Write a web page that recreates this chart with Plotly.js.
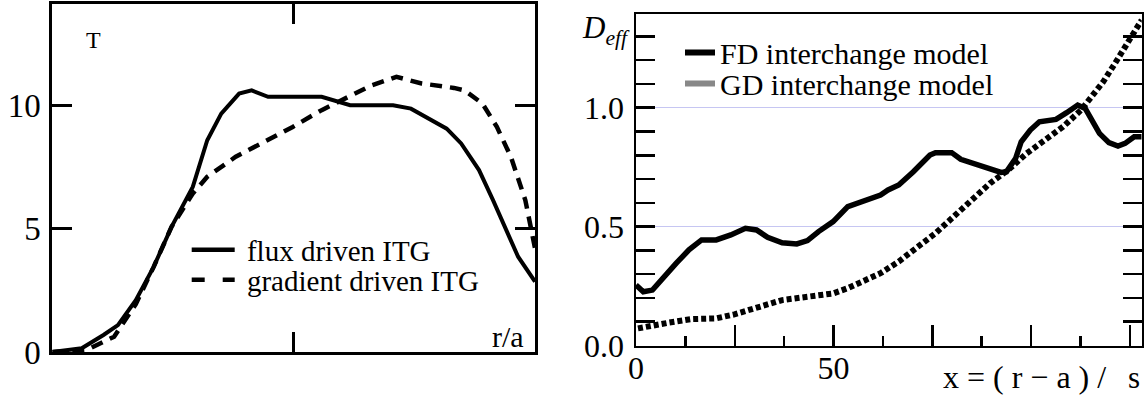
<!DOCTYPE html>
<html>
<head>
<meta charset="utf-8">
<script src="https://cdn.plot.ly/plotly-3.0.1.min.js"></script>
<style>
  html, body { margin: 0; padding: 0; background: #ffffff; }
  #chart { width: 1144px; height: 397px; }
</style>
</head>
<body>
<div id="chart"></div>
<script>
// Left panel: temperature profiles T(r/a)
const rFlux = [0, 0.061, 0.106, 0.136, 0.173, 0.21, 0.247, 0.291, 0.321, 0.35, 0.387, 0.413, 0.447, 0.558, 0.617, 0.706, 0.743, 0.817, 0.847, 0.884, 0.913, 0.943, 0.965, 1.0];
const tFlux = [0, 0.15, 0.69, 1.09, 2.1, 3.45, 5.07, 6.69, 8.58, 9.66, 10.47, 10.6, 10.34, 10.34, 10.0, 10.0, 9.86, 9.05, 8.45, 7.37, 6.15, 4.8, 3.86, 2.85];
const rGrad = [0, 0.073, 0.128, 0.173, 0.21, 0.247, 0.291, 0.321, 0.38, 0.432, 0.498, 0.558, 0.617, 0.661, 0.713, 0.765, 0.832, 0.854, 0.891, 0.921, 0.95, 0.98, 1.0];
const tGrad = [0, 0.1, 0.62, 1.94, 3.45, 5.07, 6.42, 7.1, 7.91, 8.45, 9.12, 9.8, 10.4, 10.8, 11.15, 10.88, 10.7, 10.6, 10.07, 9.12, 7.91, 6.15, 4.2];

// Right panel: effective diffusivity D_eff(x)
const xFD = [0, 1.85, 4.16, 7.85, 10.2, 13.4, 16.6, 20.3, 24.0, 27.7, 30.5, 33.3, 37.0, 40.7, 43.4, 46.2, 49.9, 53.6, 57.3, 61.9, 63.8, 66.5, 70.2, 74.4, 75.8, 79.9, 82.2, 85.9, 89.6, 92.4, 93.8, 96.1, 97.5, 99.8, 102.1, 103.5, 106.3, 109.0, 111.8, 113.7, 115.5, 117.3, 119.7, 122.0, 123.8, 126.1, 128.0];
const dFD = [0.254, 0.226, 0.233, 0.297, 0.346, 0.402, 0.444, 0.444, 0.465, 0.493, 0.486, 0.455, 0.432, 0.427, 0.441, 0.479, 0.521, 0.584, 0.608, 0.633, 0.654, 0.675, 0.731, 0.801, 0.811, 0.811, 0.783, 0.763, 0.745, 0.728, 0.731, 0.787, 0.857, 0.906, 0.941, 0.945, 0.951, 0.979, 1.011, 0.997, 0.948, 0.892, 0.853, 0.839, 0.850, 0.878, 0.878];
const xGD = [0.5, 4.6, 8.3, 13.9, 20.3, 24.9, 31.4, 37.0, 43.4, 49.9, 53.6, 57.3, 61.9, 66.5, 71.1, 75.8, 80.4, 85.0, 89.6, 94.2, 98.9, 103.5, 108.1, 112.7, 115.5, 118.3, 121.0, 123.8, 126.6, 128.0];
const dGD = [0.072, 0.086, 0.096, 0.111, 0.114, 0.131, 0.163, 0.191, 0.205, 0.219, 0.241, 0.269, 0.304, 0.353, 0.409, 0.472, 0.542, 0.612, 0.682, 0.738, 0.808, 0.864, 0.920, 0.991, 1.047, 1.110, 1.180, 1.257, 1.341, 1.369];

// Axis ticks and labels
const leftYTicks = [0, 5, 10];
const rightXTicks = [0, 25, 50, 75, 100, 125];
const rightXText = ['0', ' ', '50', ' ', ' ', ' '];
const rightXMinor = [12.5, 37.5, 62.5, 87.5, 112.5];
const rightYTicks = [0, 0.5, 1.0];
const rightYText = ['0.0', '0.5', '1.0'];
const rightYMinor = [0.1, 0.2, 0.3, 0.4, 0.6, 0.7, 0.8, 0.9, 1.1, 1.2, 1.3];

const W = 1144, H = 397;
const px = v => v / W;
const py = v => (H - v) / H;
const SERIF = '"Liberation Serif", "Times New Roman", serif';
const NBSP = '\u00a0';

const traces = [
  { x: rFlux, y: tFlux, xaxis: 'x', yaxis: 'y', mode: 'lines', showlegend: false,
    line: { color: '#000', width: 4 } },
  { x: rGrad, y: tGrad, xaxis: 'x', yaxis: 'y', mode: 'lines', showlegend: false,
    line: { color: '#000', width: 4.5, dash: '12px,8px' } },
  { x: xFD, y: dFD, xaxis: 'x2', yaxis: 'y2', mode: 'lines', showlegend: false,
    line: { color: '#000', width: 5.5 } },
  { x: xGD, y: dGD, xaxis: 'x2', yaxis: 'y2', mode: 'lines', showlegend: false,
    line: { color: '#000', width: 6, dash: '5px,3px' } },
  // legend entries
  { x: [null], y: [null], xaxis: 'x', yaxis: 'y', mode: 'lines', name: NBSP + 'flux driven ITG',
    legend: 'legend', line: { color: '#000', width: 4.5 } },
  { x: [null], y: [null], xaxis: 'x', yaxis: 'y', mode: 'lines', name: NBSP + 'gradient driven ITG',
    legend: 'legend2', line: { color: '#000', width: 4.5, dash: '13px,18px' } },
  { x: [null], y: [null], xaxis: 'x2', yaxis: 'y2', mode: 'lines', name: 'FD interchange model',
    legend: 'legend3', line: { color: '#000', width: 6 } },
  { x: [null], y: [null], xaxis: 'x2', yaxis: 'y2', mode: 'lines', name: 'GD interchange model',
    legend: 'legend4', line: { color: '#888', width: 6 } }
];

const legendBase = {
  bgcolor: 'rgba(0,0,0,0)', borderwidth: 0, xanchor: 'left', yanchor: 'middle'
};
const leftLegendFont = { family: SERIF, size: 29, color: '#000' };
const rightLegendFont = { family: SERIF, size: 30, color: '#000' };

const layout = {
  width: W, height: H,
  margin: { l: 0, r: 0, t: 0, b: 0 },
  paper_bgcolor: '#fff', plot_bgcolor: '#fff',
  font: { family: SERIF, color: '#000' },
  xaxis: {
    domain: [px(52.3), px(535)], range: [0, 1], anchor: 'y',
    showline: true, linecolor: '#000', linewidth: 3, mirror: 'ticks',
    ticks: 'inside', tickvals: [0.5], ticklen: 20, tickwidth: 3, tickcolor: '#000',
    showticklabels: false, showgrid: false, zeroline: false, fixedrange: true
  },
  yaxis: {
    domain: [py(352), py(4)], range: [0, 14.1], anchor: 'x',
    showline: true, linecolor: '#000', linewidth: 3, mirror: 'ticks',
    ticks: 'inside', tickvals: leftYTicks, ticklen: 20, tickwidth: 3, tickcolor: '#000',
    tickfont: { family: SERIF, size: 33, color: '#000' }, ticklabelstandoff: 2,
    showgrid: false, zeroline: false, fixedrange: true
  },
  xaxis2: {
    domain: [px(636), px(1141.7)], range: [0, 128], anchor: 'y2',
    showline: true, linecolor: '#000', linewidth: 2.5, mirror: true,
    ticks: 'inside', tickvals: rightXTicks, ticktext: rightXText, ticklen: 21, tickwidth: 2.5, tickcolor: '#000',
    minor: { tickmode: 'array', tickvals: rightXMinor, ticks: 'inside', ticklen: 10, tickwidth: 2.5, tickcolor: '#000', showgrid: false },
    tickfont: { family: SERIF, size: 32, color: '#000' }, ticklabelstandoff: -7,
    showgrid: false, zeroline: false, fixedrange: true
  },
  yaxis2: {
    domain: [py(345.5), py(14)], range: [0, 1.394], anchor: 'x2',
    showline: true, linecolor: '#000', linewidth: 2.5, mirror: 'ticks',
    ticks: 'inside', tickvals: rightYTicks, ticktext: rightYText, ticklen: 19, tickwidth: 2.5, tickcolor: '#000',
    minor: { tickmode: 'array', tickvals: rightYMinor, ticks: 'inside', ticklen: 19, tickwidth: 2.5, tickcolor: '#000', showgrid: false },
    tickfont: { family: SERIF, size: 32, color: '#000' }, ticklabelstandoff: 3,
    showgrid: true, gridcolor: '#c6c6f2', gridwidth: 1.5, zeroline: false, fixedrange: true
  },
  legend: Object.assign({}, legendBase, { x: px(186.7), y: py(250), itemwidth: 43, font: leftLegendFont }),
  legend2: Object.assign({}, legendBase, { x: px(186.7), y: py(280), itemwidth: 43, font: leftLegendFont }),
  legend3: Object.assign({}, legendBase, { x: px(680), y: py(52.5), font: rightLegendFont }),
  legend4: Object.assign({}, legendBase, { x: px(680), y: py(83.5), font: rightLegendFont }),
  annotations: [
    { xref: 'paper', yref: 'paper', x: px(93.5), y: py(40), text: 'T', showarrow: false,
      xanchor: 'center', yanchor: 'middle', font: { family: SERIF, size: 24, color: '#000' } },
    { xref: 'paper', yref: 'paper', x: px(526), y: py(336), text: 'r/a', showarrow: false,
      xanchor: 'right', yanchor: 'middle', font: { family: SERIF, size: 30, color: '#000' } },
    { xref: 'paper', yref: 'paper', x: px(632), y: py(30), text: '<i>D<sub>eff</sub></i>', showarrow: false,
      xanchor: 'right', yanchor: 'middle', font: { family: SERIF, size: 31, color: '#000' } },
    { xref: 'paper', yref: 'paper', x: px(941), y: py(377), text: 'x = ( r − a ) /', showarrow: false,
      xanchor: 'left', yanchor: 'middle', font: { family: SERIF, size: 32, color: '#000' } },
    { xref: 'paper', yref: 'paper', x: px(1134), y: 0, text: 's', showarrow: false,
      xanchor: 'center', yanchor: 'bottom', font: { family: SERIF, size: 31, color: '#000' } }
  ]
};

Plotly.newPlot('chart', traces, layout, { staticPlot: true, displayModeBar: false });
</script>
</body>
</html>
